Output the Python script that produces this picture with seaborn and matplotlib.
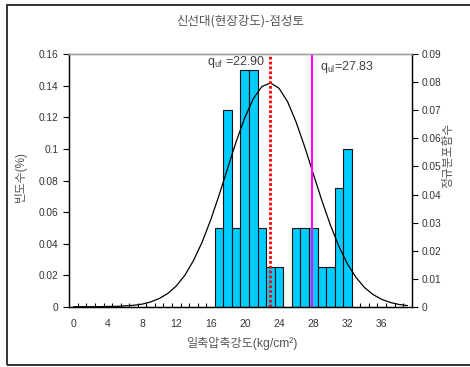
import matplotlib
matplotlib.use("Agg")
import matplotlib.pyplot as plt
from matplotlib.patches import Rectangle
from matplotlib.ticker import FixedLocator, FuncFormatter
import numpy as np
import pandas as pd
import seaborn as sns

# Frequency histogram: class centres (kg/cm2) and relative frequency
bin_centers = [17, 18, 19, 20, 21, 22, 23, 24, 25, 26, 27, 28, 29, 30, 31, 32]
frequency = [0.05, 0.125, 0.05, 0.15, 0.15, 0.05, 0.025, 0.025, 0.0,
             0.05, 0.05, 0.05, 0.025, 0.025, 0.075, 0.10]

# Normal distribution curve sampled at each category
curve_x = list(range(40))
curve_y = [0.0000, 0.0000, 0.0000, 0.0000, 0.0001, 0.0001, 0.0003, 0.0005,
           0.0009, 0.0017, 0.0029, 0.0047, 0.0074, 0.0112, 0.0164, 0.0229,
           0.0308, 0.0398, 0.0494, 0.0589, 0.0674, 0.0742, 0.0785, 0.0798,
           0.0779, 0.0731, 0.0658, 0.0570, 0.0474, 0.0379, 0.0291, 0.0215,
           0.0152, 0.0104, 0.0068, 0.0043, 0.0026, 0.0015, 0.0008, 0.0004]

# Reference strengths
q_uf = 22.90
q_ul = 27.83

x_tick_labels = [0, 4, 8, 12, 16, 20, 24, 28, 32, 36]

sns.set_theme(style="white")
plt.rcParams["font.family"] = ["Liberation Sans", "Noto Sans CJK KR"]
plt.rcParams["mathtext.fontset"] = "custom"
plt.rcParams["mathtext.rm"] = "Liberation Sans"
plt.rcParams["mathtext.it"] = "Liberation Sans"

fig = plt.figure(figsize=(4.7, 3.67), dpi=100)
ax = fig.add_axes([0.1474, 0.1643, 0.7286, 0.6877])
ax2 = ax.twinx()

hist_df = pd.DataFrame({"center": bin_centers, "freq": frequency})
sns.histplot(data=hist_df, x="center", weights="freq", discrete=True,
             stat="count", color="#00CCFF", edgecolor="#111111",
             linewidth=0.8, alpha=1.0, ax=ax)

curve_df = pd.DataFrame({"x": curve_x, "y": curve_y})
sns.lineplot(data=curve_df, x="x", y="y", color="black", linewidth=0.9, ax=ax2)

ax2.axvline(q_uf, color="red", linewidth=2.0, linestyle=(0, (1.0, 0.75)),
            dash_capstyle="butt")
ax2.axvline(q_ul, color="#FF00FF", linewidth=1.5)

ax.set_xlim(-0.5, 39.5)
ax.set_ylim(0, 0.16)
ax2.set_ylim(0, 0.09)

ax.set_xlabel("")
ax.set_ylabel("")
ax2.set_xlabel("")
ax2.set_ylabel("")

def general(v, pos):
    s = f"{v:.2f}".rstrip("0").rstrip(".")
    return s

tick_color = "#333333"
ax.set_yticks(np.arange(0, 0.161, 0.02))
ax.yaxis.set_major_formatter(FuncFormatter(general))
ax2.set_yticks(np.arange(0, 0.091, 0.01))
ax2.yaxis.set_major_formatter(FuncFormatter(general))

ax.set_xticks(x_tick_labels)
ax.set_xticklabels([str(v) for v in x_tick_labels])
ax.xaxis.set_minor_locator(FixedLocator(np.arange(0.5, 39.0, 1.0)))
ax.tick_params(axis="x", which="major", length=0, pad=9, labelsize=7.5,
               colors=tick_color)
ax.tick_params(axis="x", which="minor", length=3, width=0.8, direction="in",
               bottom=True, color="black")
ax.tick_params(axis="y", which="major", length=4, width=0.8, direction="out",
               left=True, pad=4, labelsize=7.3, colors=tick_color)
ax.tick_params(axis="y", color="black")
ax2.tick_params(axis="y", which="major", length=4, width=0.8, direction="out",
                right=True, pad=3, labelsize=7.3, colors=tick_color)
ax2.tick_params(axis="y", color="black")

for a in (ax, ax2):
    for side in ("left", "right", "bottom"):
        a.spines[side].set_color("black")
        a.spines[side].set_linewidth(0.9)
    a.spines["top"].set_color("#A0A0A0")
    a.spines["top"].set_linewidth(1.0)
    a.grid(False)

ax2.annotate(r"q$_{\mathrm{uf}}$ =22.90", xy=(q_uf, 0.969),
             xycoords=("data", "axes fraction"), xytext=(-3, 0),
             textcoords="offset points", ha="right", va="center",
             fontsize=9, color="#404040")
ax2.annotate(r"q$_{\mathrm{ul}}$=27.83", xy=(q_ul, 0.95),
             xycoords=("data", "axes fraction"), xytext=(6, 0),
             textcoords="offset points", ha="left", va="center",
             fontsize=9, color="#404040")

label_color = "#555555"
fig.text(240 / 470, 1 - 21 / 367, "신선대(현장강도)-점성토", ha="center",
         va="center", fontsize=9, color=label_color,
         family=["Noto Sans CJK KR"])
fig.text(242 / 470, 1 - 343 / 367, "일축압축강도(kg/cm²)", ha="center",
         va="center", fontsize=8.7, color=label_color,
         family=["Liberation Sans", "Noto Sans CJK KR"])
fig.text(20 / 470, 1 - 176 / 367, "빈도수(%)", ha="center", va="center",
         rotation=90, fontsize=8.5, color=label_color,
         family=["Liberation Sans", "Noto Sans CJK KR"])
fig.text(448 / 470, 1 - 155 / 367, "정규분포함수", ha="center", va="center",
         rotation=90, fontsize=8.5, color=label_color,
         family=["Noto Sans CJK KR"])

# Chart frame
fig.add_artist(Rectangle((7 / 470, 2 / 367), 1.2, 1 - 7 / 367,
                         transform=fig.transFigure, fill=False,
                         edgecolor="#333333", linewidth=1.4))

fig.savefig("out.png", dpi=100)
